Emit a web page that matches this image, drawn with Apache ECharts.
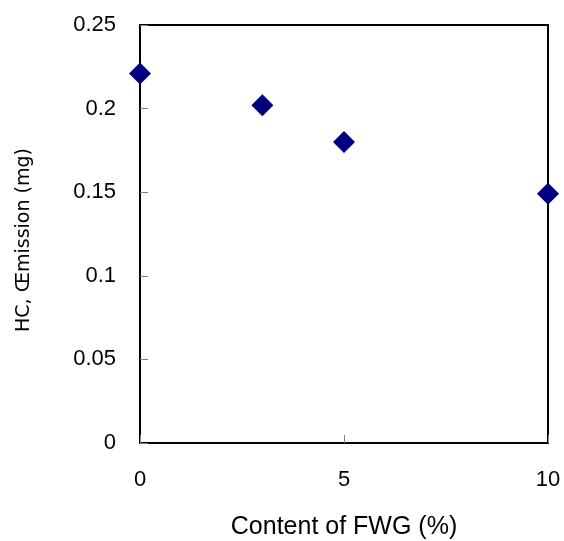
<!DOCTYPE html>
<html>
<head>
<meta charset="utf-8">
<script src="https://cdn.jsdelivr.net/npm/echarts@6/dist/echarts.min.js"></script>
<style>
  html, body { margin: 0; padding: 0; background: #fff; }
  #chart { width: 564px; height: 541px; }
</style>
</head>
<body>
<div id="chart"></div>
<script>
// FWG content (%) and HC emission (mg)
const fwgContent = [0, 3, 5, 10];
const hcEmission = [0.221, 0.202, 0.180, 0.149];

const points = fwgContent.map((x, i) => [x, hcEmission[i]]);

const chart = echarts.init(document.getElementById('chart'));

const option = {
    animation: false,
    textStyle: { fontFamily: 'Liberation Sans, Arial, sans-serif', color: '#000' },
    grid: {
        left: 140,
        right: 16,
        top: 25,
        bottom: 98,
        outerBoundsMode: 'none',
        containLabel: false,
        show: true,
        borderColor: '#000',
        borderWidth: 2,
        backgroundColor: '#fff'
    },
    xAxis: {
        type: 'value',
        min: 0,
        max: 10,
        interval: 5,
        name: 'Content of FWG (%)',
        nameLocation: 'middle',
        nameGap: 72,
        nameTextStyle: { fontSize: 25, color: '#000' },
        axisLine: { show: true, lineStyle: { color: '#000', width: 2 } },
        axisTick: { show: true, inside: true, length: 8, lineStyle: { color: '#808080' } },
        axisLabel: { fontSize: 22, color: '#000', margin: 26 },
        splitLine: { show: false }
    },
    yAxis: {
        type: 'value',
        min: 0,
        max: 0.25,
        interval: 0.05,
        name: 'HC, Œmission (mg)',
        nameLocation: 'middle',
        nameGap: 106,
        nameTextStyle: { fontSize: 19, color: '#000', fontFamily: 'DejaVu Sans', padding: [0, 12, 0, 0] },
        axisLine: { show: true, lineStyle: { color: '#000', width: 2 } },
        axisTick: { show: true, inside: true, length: 8, lineStyle: { color: '#808080' } },
        axisLabel: { fontSize: 22, color: '#000', margin: 24 },
        splitLine: { show: false }
    },
    series: [
        {
            type: 'scatter',
            symbol: 'diamond',
            symbolSize: 22,
            itemStyle: { color: '#000080', opacity: 1 },
            data: points
        }
    ]
};

chart.setOption(option);
</script>
</body>
</html>
